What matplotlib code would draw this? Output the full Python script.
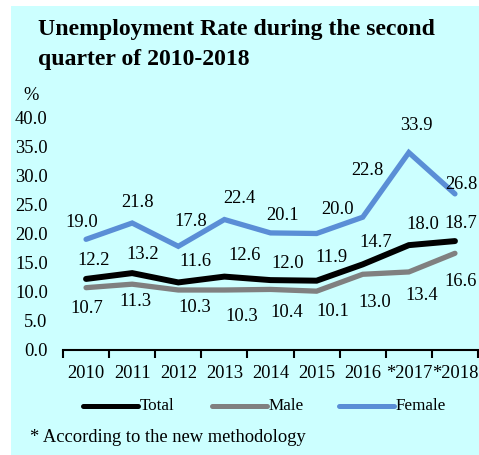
import matplotlib
matplotlib.use('Agg')
import matplotlib.pyplot as plt
from matplotlib.patches import Rectangle
from matplotlib.lines import Line2D

plt.rcParams['font.family'] = ['Liberation Serif', 'DejaVu Serif']

years = ['2010', '2011', '2012', '2013', '2014', '2015', '2016', '*2017', '*2018']
total = [12.2, 13.2, 11.6, 12.6, 12.0, 11.9, 14.7, 18.0, 18.7]
male = [10.7, 11.3, 10.3, 10.3, 10.4, 10.1, 13.0, 13.4, 16.6]
female = [19.0, 21.8, 17.8, 22.4, 20.1, 20.0, 22.8, 33.9, 26.8]

# label offsets from the point, in pixels (dx, dy up)
off_female = [(-4, 17), (5, 21), (12, 25), (15, 21), (12, 17), (21, 24), (5, 47), (8, 27), (6, 9)]
off_total = [(7, 18), (10, 19), (17, 21), (20, 21), (17, 17), (15, 23), (13, 22), (14, 21), (6, 18)]
off_male = [(1, -21), (3, -17), (16, -17), (17, -26), (16, -23), (16, -20), (12, -28), (13, -24), (6, -28)]

c_total = 'black'
c_male = '#808080'
c_female = '#5A8ED6'
bg = '#CCFFFF'

W, H = 479, 455
fig = plt.figure(figsize=(W / 100, H / 100), dpi=100)
fig.patches.append(Rectangle((11 / W, 0), 1, 1 - 6 / H, transform=fig.transFigure,
                             facecolor=bg, edgecolor='none', zorder=-10))

ax = fig.add_axes((63 / W, 1 - 350 / H, 415 / W, 233 / H))
ax.set_facecolor('none')
x = list(range(len(years)))

ax.plot(x, female, color=c_female, lw=3.8, solid_capstyle='round', solid_joinstyle='miter')
ax.plot(x, male, color=c_male, lw=3.8, solid_capstyle='round', solid_joinstyle='miter')
ax.plot(x, total, color=c_total, lw=4.3, solid_capstyle='round', solid_joinstyle='miter')

for vals, offs in [(female, off_female), (total, off_total), (male, off_male)]:
    for i in x:
        dx, dy = offs[i]
        ax.annotate(f'{vals[i]:.1f}', (i, vals[i]), xytext=(dx * 0.72, dy * 0.72),
                    textcoords='offset points', ha='center', va='center',
                    fontsize=13.3, annotation_clip=False)

ax.set_xlim(-0.5, 8.5)
ax.set_ylim(0, 40)
ax.set_yticks(range(0, 41, 5))
ax.set_yticklabels([f'{v:.1f}' for v in range(0, 41, 5)], fontsize=13.3)
ax.tick_params(axis='y', length=0, pad=11)

ax.set_xticks(x)
ax.set_xticklabels(years, fontsize=13.3)
ax.set_xticks([i - 0.5 for i in range(len(years) + 1)], minor=True)
ax.tick_params(axis='x', which='major', length=0, pad=11)
ax.tick_params(axis='x', which='minor', length=6, width=1.5, direction='out')

for s in ['top', 'right', 'left']:
    ax.spines[s].set_visible(False)
ax.spines['bottom'].set_linewidth(1.5)

fig.text(38 / W, 1 - 30 / H, 'Unemployment Rate during the second', fontsize=17.1,
         fontweight='bold', va='center', ha='left')
fig.text(38 / W, 1 - 59 / H, 'quarter of 2010-2018', fontsize=17.1,
         fontweight='bold', va='center', ha='left')
fig.text(31 / W, 1 - 95 / H, '%', fontsize=13.3, va='center', ha='center')

# legend drawn by hand to match placement
legend_items = [('Total', c_total, 83), ('Male', c_male, 212), ('Female', c_female, 339)]
for name, col, x0 in legend_items:
    fig.add_artist(Line2D([x0 / W, (x0 + 55) / W], [1 - 406 / H, 1 - 406 / H],
                          transform=fig.transFigure, color=col, lw=3.6,
                          solid_capstyle='round'))
    fig.text((x0 + 57) / W, 1 - 406 / H, name, fontsize=12.3, va='center', ha='left')

fig.text(30 / W, 1 - 437 / H, '* According to the new methodology', fontsize=13.3,
         va='center', ha='left')

fig.savefig('out.png', dpi=100)
